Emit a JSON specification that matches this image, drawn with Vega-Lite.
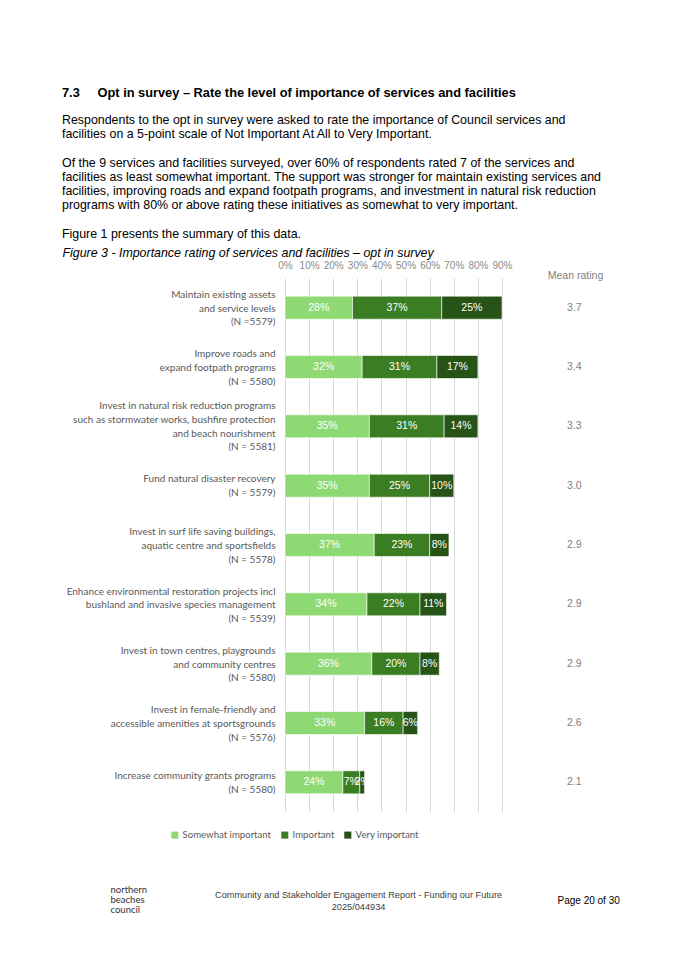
{
  "$schema": "https://vega.github.io/schema/vega-lite/v6.json",
  "width": 217,
  "height": 534,
  "autosize": {"type": "none"},
  "padding": {"left": 285, "top": 278, "right": 173, "bottom": 142},
  "background": "white",
  "config": {"view": {"stroke": null}, "font": "Liberation Sans"},
  "title": {
    "text": "7.3\u00a0\u00a0\u00a0\u00a0\u00a0Opt in survey – Rate the level of importance of services and facilities",
    "subtitle": [
      "Respondents to the opt in survey were asked to rate the importance of Council services and",
      "facilities on a 5-point scale of Not Important At All to Very Important.",
      "\u200b",
      "Of the 9 services and facilities surveyed, over 60% of respondents rated 7 of the services and",
      "facilities as least somewhat important. The support was stronger for maintain existing services and",
      "facilities, improving roads and expand footpath programs, and investment in natural risk reduction",
      "programs with 80% or above rating these initiatives as somewhat to very important.",
      "\u200b",
      "Figure 1 presents the summary of this data."
    ],
    "anchor": "start",
    "frame": "group",
    "dx": -223,
    "offset": 6,
    "font": "Liberation Sans",
    "fontSize": 12.8,
    "fontWeight": "bold",
    "color": "#000000",
    "subtitleFont": "Liberation Sans",
    "subtitleFontSize": 12.4,
    "subtitleColor": "#000000",
    "subtitleLineHeight": 14.2,
    "subtitlePadding": 14
  },
  "datasets": {
    "bars": [
      {"item": "Maintain existing assets|and service levels|(N =5579)", "level": "Somewhat important", "ord": 1, "pct": 0.28},
      {"item": "Maintain existing assets|and service levels|(N =5579)", "level": "Important", "ord": 2, "pct": 0.37},
      {"item": "Maintain existing assets|and service levels|(N =5579)", "level": "Very important", "ord": 3, "pct": 0.25},
      {"item": "Improve roads and|expand footpath programs|(N = 5580)", "level": "Somewhat important", "ord": 1, "pct": 0.32},
      {"item": "Improve roads and|expand footpath programs|(N = 5580)", "level": "Important", "ord": 2, "pct": 0.31},
      {"item": "Improve roads and|expand footpath programs|(N = 5580)", "level": "Very important", "ord": 3, "pct": 0.17},
      {"item": "Invest in natural risk reduction programs|such as stormwater works, bushfire protection|and beach nourishment|(N = 5581)", "level": "Somewhat important", "ord": 1, "pct": 0.35},
      {"item": "Invest in natural risk reduction programs|such as stormwater works, bushfire protection|and beach nourishment|(N = 5581)", "level": "Important", "ord": 2, "pct": 0.31},
      {"item": "Invest in natural risk reduction programs|such as stormwater works, bushfire protection|and beach nourishment|(N = 5581)", "level": "Very important", "ord": 3, "pct": 0.14},
      {"item": "Fund natural disaster recovery|(N = 5579)", "level": "Somewhat important", "ord": 1, "pct": 0.35},
      {"item": "Fund natural disaster recovery|(N = 5579)", "level": "Important", "ord": 2, "pct": 0.25},
      {"item": "Fund natural disaster recovery|(N = 5579)", "level": "Very important", "ord": 3, "pct": 0.10},
      {"item": "Invest in surf life saving buildings,|aquatic centre and sportsfields|(N = 5578)", "level": "Somewhat important", "ord": 1, "pct": 0.37},
      {"item": "Invest in surf life saving buildings,|aquatic centre and sportsfields|(N = 5578)", "level": "Important", "ord": 2, "pct": 0.23},
      {"item": "Invest in surf life saving buildings,|aquatic centre and sportsfields|(N = 5578)", "level": "Very important", "ord": 3, "pct": 0.08},
      {"item": "Enhance environmental restoration projects incl|bushland and invasive species management|(N = 5539)", "level": "Somewhat important", "ord": 1, "pct": 0.34},
      {"item": "Enhance environmental restoration projects incl|bushland and invasive species management|(N = 5539)", "level": "Important", "ord": 2, "pct": 0.22},
      {"item": "Enhance environmental restoration projects incl|bushland and invasive species management|(N = 5539)", "level": "Very important", "ord": 3, "pct": 0.11},
      {"item": "Invest in town centres, playgrounds|and community centres|(N = 5580)", "level": "Somewhat important", "ord": 1, "pct": 0.36},
      {"item": "Invest in town centres, playgrounds|and community centres|(N = 5580)", "level": "Important", "ord": 2, "pct": 0.20},
      {"item": "Invest in town centres, playgrounds|and community centres|(N = 5580)", "level": "Very important", "ord": 3, "pct": 0.08},
      {"item": "Invest in female-friendly and|accessible amenities at sportsgrounds|(N = 5576)", "level": "Somewhat important", "ord": 1, "pct": 0.33},
      {"item": "Invest in female-friendly and|accessible amenities at sportsgrounds|(N = 5576)", "level": "Important", "ord": 2, "pct": 0.16},
      {"item": "Invest in female-friendly and|accessible amenities at sportsgrounds|(N = 5576)", "level": "Very important", "ord": 3, "pct": 0.06},
      {"item": "Increase community grants programs|(N = 5580)", "level": "Somewhat important", "ord": 1, "pct": 0.24},
      {"item": "Increase community grants programs|(N = 5580)", "level": "Important", "ord": 2, "pct": 0.07},
      {"item": "Increase community grants programs|(N = 5580)", "level": "Very important", "ord": 3, "pct": 0.02}
    ],
    "means": [
      {"item": "Maintain existing assets|and service levels|(N =5579)", "mean": 3.7},
      {"item": "Improve roads and|expand footpath programs|(N = 5580)", "mean": 3.4},
      {"item": "Invest in natural risk reduction programs|such as stormwater works, bushfire protection|and beach nourishment|(N = 5581)", "mean": 3.3},
      {"item": "Fund natural disaster recovery|(N = 5579)", "mean": 3.0},
      {"item": "Invest in surf life saving buildings,|aquatic centre and sportsfields|(N = 5578)", "mean": 2.9},
      {"item": "Enhance environmental restoration projects incl|bushland and invasive species management|(N = 5539)", "mean": 2.9},
      {"item": "Invest in town centres, playgrounds|and community centres|(N = 5580)", "mean": 2.9},
      {"item": "Invest in female-friendly and|accessible amenities at sportsgrounds|(N = 5576)", "mean": 2.6},
      {"item": "Increase community grants programs|(N = 5580)", "mean": 2.1}
    ]
  },
  "resolve": {"axis": {"x": "independent"}},
  "layer": [
    {
      "data": {"name": "bars"},
      "mark": {"type": "bar", "stroke": "#ffffff", "strokeWidth": 0.6},
      "encoding": {
        "y": {
          "field": "item",
          "type": "nominal",
          "sort": null,
          "scale": {"paddingInner": 0.612, "paddingOuter": 0.306},
          "axis": {
            "title": "Mean rating",
            "titleX": 290,
            "titleY": -3,
            "titleAngle": 0,
            "titleAlign": "center",
            "titleBaseline": "middle",
            "titleFont": "Liberation Sans",
            "titleFontSize": 10.5,
            "titleFontWeight": "normal",
            "titleColor": "#7f7f7f",
            "labelExpr": "split(datum.label, '|')",
            "labelFont": "Lato",
            "labelFontSize": 10,
            "labelColor": "#595959",
            "labelPadding": 10,
            "labelLimit": 300,
            "labelLineHeight": 13.6,
            "labelOffset": {
              "condition": [
                {"test": "length(split(datum.value, '|')) == 4", "value": -20},
                {"test": "length(split(datum.value, '|')) == 3", "value": -12.6},
                {"test": "length(split(datum.value, '|')) == 2", "value": -6.4}
              ],
              "value": 0
            },
            "domain": false,
            "ticks": false,
            "grid": false
          }
        },
        "x": {
          "field": "pct",
          "type": "quantitative",
          "stack": "zero",
          "scale": {"domain": [0, 0.9], "nice": false},
          "axis": {
            "orient": "top",
            "values": [0, 0.1, 0.2, 0.3, 0.4, 0.5, 0.6, 0.7, 0.8, 0.9],
            "format": ".0%",
            "grid": true,
            "gridColor": "#d9d9d9",
            "gridWidth": 1,
            "domain": false,
            "ticks": false,
            "labelFont": "Liberation Sans",
            "labelFontSize": 10,
            "labelColor": "#8a8a8a",
            "labelPadding": 8,
            "labelFlush": false,
            "labelOverlap": false,
            "title": "Figure 3 - Importance rating of services and facilities – opt in survey",
            "titleFont": "Liberation Sans",
            "titleFontSize": 12.4,
            "titleFontStyle": "italic",
            "titleFontWeight": "normal",
            "titleColor": "#000000",
            "titleX": -223,
            "titleY": -26,
            "titleAlign": "left",
            "titleBaseline": "middle",
            "titleAngle": 0
          }
        },
        "color": {
          "field": "level",
          "type": "nominal",
          "scale": {
            "domain": ["Somewhat important", "Important", "Very important"],
            "range": ["#8ED973", "#3B7D23", "#275317"]
          },
          "legend": {
            "orient": "none",
            "legendX": -115,
            "legendY": 552,
            "direction": "horizontal",
            "title": null,
            "symbolType": "square",
            "symbolSize": 50,
            "symbolStrokeWidth": 0,
            "labelFont": "Lato",
            "labelFontSize": 9.6,
            "labelColor": "#595959",
            "labelOffset": 3,
            "columnPadding": 8
          }
        },
        "order": {"field": "ord", "type": "quantitative"}
      }
    },
    {
      "data": {"name": "bars"},
      "mark": {"type": "text", "color": "#ffffff", "font": "Liberation Sans", "fontSize": 10.5},
      "encoding": {
        "y": {"field": "item", "type": "nominal", "sort": null},
        "x": {"field": "pct", "type": "quantitative", "stack": "zero", "bandPosition": 0.5, "axis": null, "scale": {"domain": [0, 0.9], "nice": false}},
        "detail": {"field": "level", "type": "nominal"},
        "order": {"field": "ord", "type": "quantitative"},
        "text": {"field": "pct", "type": "quantitative", "format": ".0%"}
      }
    },
    {
      "data": {"name": "means"},
      "mark": {"type": "text", "font": "Liberation Sans", "fontSize": 10.5, "color": "#7f7f7f"},
      "encoding": {
        "y": {"field": "item", "type": "nominal", "sort": null},
        "x": {
          "datum": 1.2,
          "type": "quantitative",
          "scale": {"domain": [0, 0.9], "nice": false},
          "axis": {
            "orient": "bottom",
            "values": [0.303, 0.9],
            "labelExpr": "datum.value > 0.5 ? 'Page 20 of 30' : ['Community and Stakeholder Engagement Report - Funding our Future', '2025/044934']",
            "grid": false,
            "domain": false,
            "ticks": false,
            "labelFont": "Liberation Sans",
            "labelFontSize": {"condition": {"test": "datum.value > 0.5", "value": 10}, "value": 9.2},
            "labelColor": {"condition": {"test": "datum.value > 0.5", "value": "#000000"}, "value": "#404040"},
            "labelAlign": {"condition": {"test": "datum.value > 0.5", "value": "left"}, "value": "center"},
            "labelOffset": {"condition": {"test": "datum.value > 0.5", "value": 55}, "value": 0},
            "labelPadding": {"condition": {"test": "datum.value > 0.5", "value": 83}, "value": 78},
            "labelBaseline": "top",
            "labelLineHeight": 12,
            "labelOverlap": false,
            "labelFlush": false,
            "labelLimit": 400,
            "title": ["northern", "beaches", "council"],
            "titleX": -175,
            "titleY": 72,
            "titleAlign": "left",
            "titleBaseline": "top",
            "titleFont": "Lato",
            "titleFontSize": 9.5,
            "titleFontWeight": "normal",
            "titleColor": "#333333",
            "titleLineHeight": 10,
            "titleAngle": 0
          }
        },
        "text": {"field": "mean", "type": "quantitative", "format": ".1f"}
      }
    }
  ]
}
